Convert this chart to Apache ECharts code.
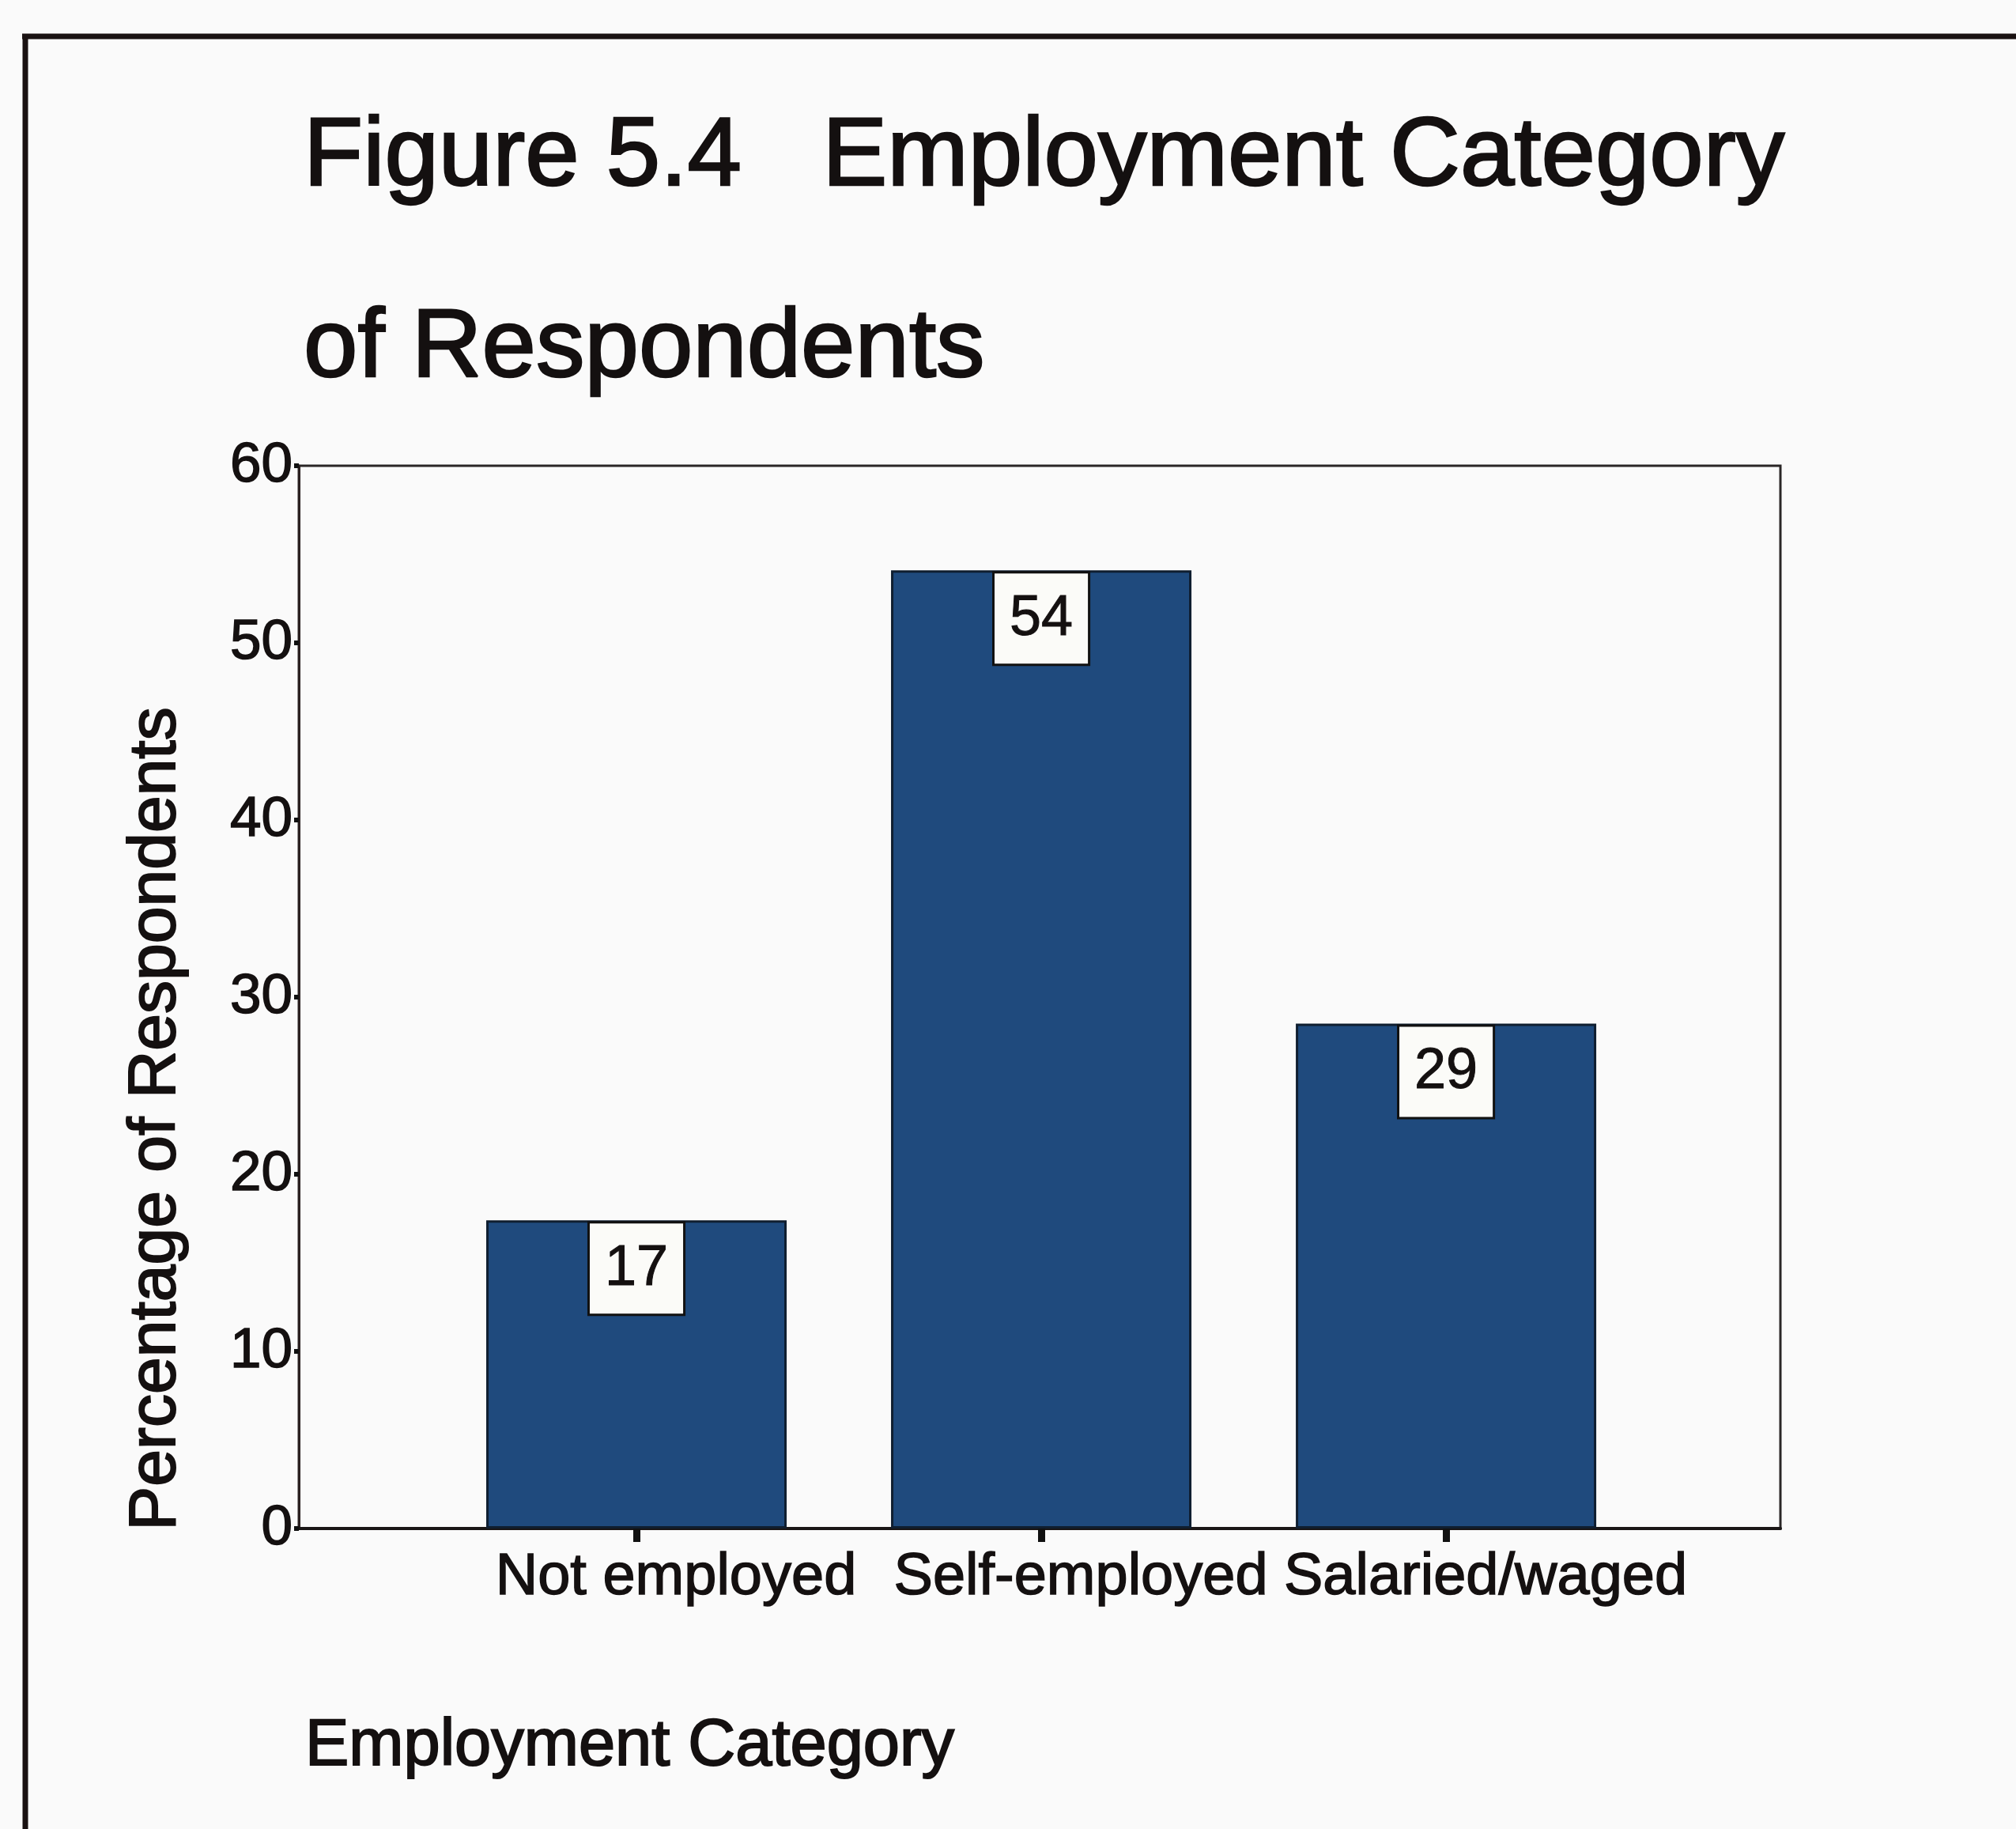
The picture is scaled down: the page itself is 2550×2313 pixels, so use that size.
<!DOCTYPE html>
<html>
<head>
<meta charset="utf-8">
<script src="https://cdn.jsdelivr.net/npm/echarts@6/dist/echarts.min.js"></script>
<style>
html,body{margin:0;padding:0;background:#fafafa;}
#chart{width:2550px;height:2313px;}
</style>
</head>
<body>
<div id="chart"></div>
<script>
// ---- data ----
var categories = ['Not employed', 'Self-employed', 'Salaried/waged'];
var values = [17.4, 54.1, 28.5];          // bar heights (percent)
var valueLabels = ['17', '54', '29'];     // printed labels
var yTicks = [0, 10, 20, 30, 40, 50, 60];
var titleLine1 = 'Figure 5.4   Employment Category';
var titleLine2 = 'of Respondents';
var yAxisName = 'Percentage of Respondents';
var xAxisName = 'Employment Category';

var FONT = "'Liberation Sans', Arial, sans-serif";
var INK = '#141010';
var chart = echarts.init(document.getElementById('chart'));

var catIdx = categories.map(function (c, i) { return i; });
var barData = categories.map(function (c, i) { return [i, values[i]]; });

chart.setOption({
  backgroundColor: '#fafafa',
  animation: false,
  grid: {
    left: 378, right: 298, top: 589, bottom: 380,
    show: true, borderColor: '#2a2626', borderWidth: 3, backgroundColor: 'transparent'
  },
  xAxis: {
    type: 'value',
    min: -0.834, max: 2.826,
    splitLine: { show: false },
    axisLine: { show: true, onZero: false, lineStyle: { color: '#1a1616', width: 4 } },
    axisTick: { show: true, customValues: catIdx, length: 17, lineStyle: { color: '#111', width: 9 } },
    axisLabel: {
      show: true, customValues: catIdx,
      formatter: function (v) { return categories[Math.round(v)]; },
      fontFamily: FONT, fontSize: 74, color: INK, margin: 26,
      textBorderColor: INK, textBorderWidth: 1.5,
      padding: [0, 0, 0, 100]
    }
  },
  yAxis: {
    type: 'value',
    min: yTicks[0], max: yTicks[yTicks.length - 1], interval: 10,
    splitLine: { show: false },
    axisLine: { show: true, onZero: false, lineStyle: { color: '#2a2020', width: 3 } },
    axisTick: { show: true, length: 6, lineStyle: { color: '#111', width: 6 } },
    axisLabel: {
      fontFamily: FONT, fontSize: 71, color: INK, margin: 8,
      textBorderColor: INK, textBorderWidth: 1.5,
      padding: [0, 0, 14, 0]
    }
  },
  series: [{
    type: 'bar',
    data: barData,
    barWidth: 380,
    itemStyle: { color: '#1f4a7d', borderColor: '#0f1e30', borderWidth: 3 },
    label: {
      show: true,
      position: 'insideTop',
      distance: 4,
      formatter: function (p) { return valueLabels[p.dataIndex]; },
      fontFamily: FONT, fontSize: 72, color: INK,
      textBorderColor: INK, textBorderWidth: 1,
      backgroundColor: '#fbfbf8',
      borderColor: '#111', borderWidth: 3,
      padding: [22, 19, 20, 19]
    }
  }],
  graphic: [
    { type: 'line', silent: true, shape: { x1: 28, y1: 46, x2: 2550, y2: 46 },
      style: { stroke: '#1a1212', lineWidth: 7 } },
    { type: 'line', silent: true, shape: { x1: 32, y1: 43, x2: 32, y2: 2313 },
      style: { stroke: '#1a1212', lineWidth: 7 } },
    { type: 'text', x: 384, y: 200,
      style: { text: titleLine1, font: '123px ' + FONT, fill: INK, stroke: INK, lineWidth: 2.5, align: 'left', verticalAlign: 'middle' } },
    { type: 'text', x: 384, y: 442,
      style: { text: titleLine2, font: '123px ' + FONT, fill: INK, stroke: INK, lineWidth: 2.5, align: 'left', verticalAlign: 'middle' } },
    { type: 'text', x: 198, y: 1415, rotation: Math.PI / 2,
      style: { text: yAxisName, font: '84px ' + FONT, fill: INK, stroke: INK, lineWidth: 2, align: 'center', verticalAlign: 'middle' } },
    { type: 'text', x: 386, y: 2209,
      style: { text: xAxisName, font: '83px ' + FONT, fill: INK, stroke: INK, lineWidth: 2, align: 'left', verticalAlign: 'middle' } }
  ]
});
</script>
</body>
</html>
